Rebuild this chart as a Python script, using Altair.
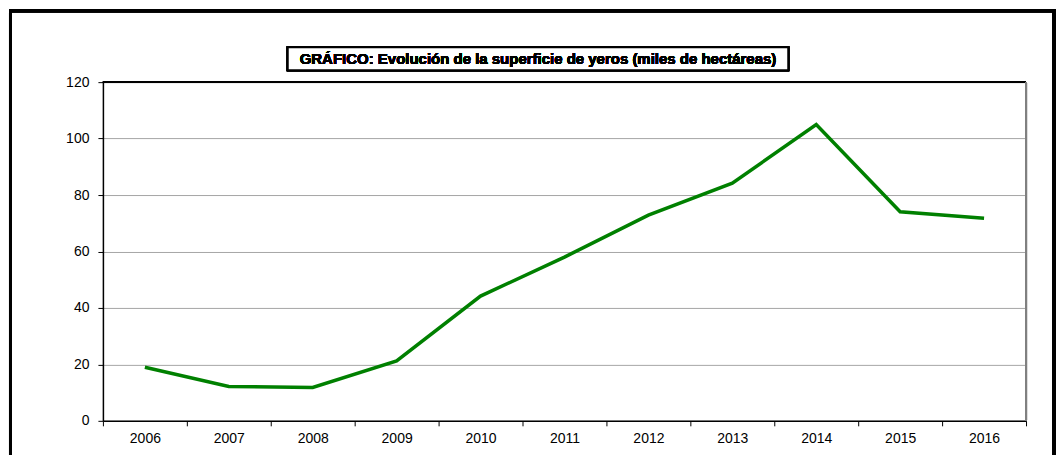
import altair as alt
import pandas as pd

years = ["2006", "2007", "2008", "2009", "2010", "2011", "2012", "2013", "2014", "2015", "2016"]
superficie = [19.0, 12.2, 11.8, 21.2, 44.2, 58.0, 72.9, 84.2, 105.0, 74.1, 71.8]
y_ticks = [0, 20, 40, 60, 80, 100, 120]
title_text = "GRÁFICO: Evolución de la superficie de yeros (miles de hectáreas)"

df = pd.DataFrame({"year": years, "value": superficie})

W, H = 924, 339
FONT = "Arial, Liberation Sans, sans-serif"

x_enc = alt.X(
    "year:N",
    sort=years,
    scale=alt.Scale(paddingInner=0, paddingOuter=0),
    axis=alt.Axis(
        title=None, labelAngle=0, tickBand="extent", tickSize=5, tickColor="black",
        domainColor="black", domainWidth=1.5, labelFont=FONT, labelFontSize=14,
        labelColor="black", labelPadding=6, grid=False,
    ),
)
y_enc = alt.Y(
    "value:Q",
    scale=alt.Scale(domain=[0, 120], nice=False),
    axis=alt.Axis(
        title=None, values=y_ticks, tickSize=5, tickColor="black", domainColor="black",
        domainWidth=1.5, labelFont=FONT, labelFontSize=14, labelColor="black",
        labelPadding=9, grid=True, gridColor="#a6a6a6", gridWidth=1,
    ),
)

base = alt.Chart(df)

line = base.mark_line(color="#008000", strokeWidth=3.5, strokeJoin="miter").encode(x=x_enc, y=y_enc)

top_rule = base.mark_rule(color="black", strokeWidth=1.5).encode(
    x=alt.value(0), x2=alt.value(W), y=alt.value(0)
)
right_rule = base.mark_rule(color="#808080", strokeWidth=2).encode(
    x=alt.value(W), y=alt.value(0), y2=alt.value(H)
)

outer_frame = base.mark_rect(fill=None, stroke="black", strokeWidth=3, clip=False).encode(
    x=alt.value(-92.5), x2=alt.value(952), y=alt.value(-71.5), y2=alt.value(420)
)

title_box = base.mark_rect(fill="white", stroke="black", strokeWidth=2).encode(
    x=alt.value(185), x2=alt.value(686), y=alt.value(-35), y2=alt.value(-12)
)
title_label = base.mark_text(
    text=title_text, font=FONT, fontSize=15, fontWeight="bold", color="black",
    align="center", baseline="middle",
).encode(x=alt.value(435.5), y=alt.value(-23))

chart = alt.layer(top_rule, right_rule, line, outer_frame, title_box, title_label).properties(
    width=W, height=H,
    autosize=alt.AutoSizeParams(type="none"),
    padding={"left": 95, "top": 74, "right": 30, "bottom": 40},
).configure_view(stroke=None).configure(background="white")

chart.save("out.html", embed_options={"renderer": "svg", "actions": False})
